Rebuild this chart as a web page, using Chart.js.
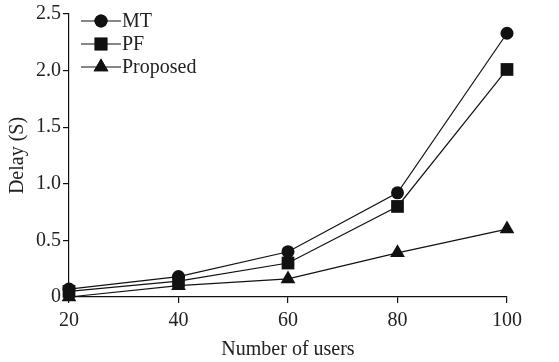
<!DOCTYPE html>
<html>
<head>
<meta charset="utf-8">
<script src="https://cdn.jsdelivr.net/npm/chart.js@4/dist/chart.umd.min.js"></script>
<style>
  html, body { margin: 0; padding: 0; background: #fff; }
  #wrap { width: 559px; height: 362px; position: relative; }
</style>
</head>
<body>
<div id="wrap"><canvas id="myChart"></canvas></div>
<script>
const users = [20, 40, 60, 80, 100];
const mt = [0.07, 0.18, 0.40, 0.92, 2.33];
const pf = [0.05, 0.14, 0.30, 0.80, 2.01];
const proposed = [0.0, 0.10, 0.16, 0.39, 0.60];
const yTicks = [0, 0.5, 1.0, 1.5, 2.0, 2.5];
const seriesNames = ["MT", "PF", "Proposed"];

const FONT = "'Liberation Serif', 'Times New Roman', serif";
const INK = "#111";
const TEXT = "#222";
const FS = 20;

function pts(ys) {
  return users.map((u, i) => ({ x: u, y: ys[i] }));
}

function makeSet(label, ys, style, radius) {
  return {
    label: label,
    data: pts(ys),
    borderColor: INK,
    backgroundColor: INK,
    borderWidth: 1.2,
    pointStyle: style,
    pointRadius: radius,
    pointBackgroundColor: INK,
    pointBorderColor: INK,
    pointBorderWidth: 0,
    tension: 0,
    clip: false,
  };
}

var data = {
  datasets: [
    makeSet(seriesNames[0], mt, "circle", 6.5),
    makeSet(seriesNames[1], pf, "rect", 9),
    makeSet(seriesNames[2], proposed, "triangle", 8.5),
  ],
};

// legend drawn inside the plot: short line with marker, then the name
const lineLegend = {
  id: "lineLegend",
  afterDraw(chart) {
    const ctx = chart.ctx;
    const rows = [21, 44, 67];
    ctx.save();
    chart.data.datasets.forEach((ds, i) => {
      const y = rows[i];
      ctx.strokeStyle = INK;
      ctx.lineWidth = 1.2;
      ctx.beginPath();
      ctx.moveTo(81, y);
      ctx.lineTo(121, y);
      ctx.stroke();
      ctx.fillStyle = INK;
      Chart.helpers.drawPoint(ctx, { pointStyle: ds.pointStyle, radius: ds.pointRadius, borderWidth: 0 }, 101, y);
      ctx.fill();
      ctx.fillStyle = TEXT;
      ctx.font = FS + "px " + FONT;
      ctx.textBaseline = "middle";
      ctx.textAlign = "left";
      ctx.fillText(ds.label, 122, y + 1);
    });
    ctx.restore();
  },
};

var ctx = document.getElementById("myChart").getContext("2d");
var chart = new Chart(ctx, {
  type: "line",
  data: data,
  plugins: [lineLegend],
  options: {
    animation: { duration: 0 },
    responsive: true,
    maintainAspectRatio: false,
    layout: { padding: { top: 14, right: 52, left: 0, bottom: 0 } },
    plugins: {
      legend: { display: false },
      tooltip: { enabled: false },
    },
    scales: {
      x: {
        type: "linear",
        min: 20,
        max: 100,
        afterBuildTicks: (s) => { s.ticks = users.map((v) => ({ value: v })); },
        afterFit: (s) => { s.height = 65; },
        border: { display: true, color: INK, width: 1.2 },
        grid: { drawOnChartArea: false, drawTicks: true, tickLength: 6, color: INK, lineWidth: 1.2 },
        ticks: { color: TEXT, font: { family: FONT, size: FS }, padding: 6, maxRotation: 0 },
        title: {
          display: true,
          text: "Number of users",
          color: TEXT,
          font: { family: FONT, size: FS },
          padding: { top: 2, bottom: 0 },
        },
      },
      y: {
        min: 0,
        max: 2.5,
        afterBuildTicks: (s) => { s.ticks = yTicks.map((v) => ({ value: v })); },
        afterFit: (s) => { s.width = 69; },
        border: { display: true, color: INK, width: 1.2 },
        grid: { drawOnChartArea: false, drawTicks: true, tickLength: 6, color: INK, lineWidth: 1.2 },
        ticks: {
          color: TEXT,
          font: { family: FONT, size: FS },
          padding: 2,
          callback: (v) => (v === 0 ? "0" : v.toFixed(1)),
        },
        title: {
          display: true,
          text: "Delay (S)",
          color: TEXT,
          font: { family: FONT, size: FS },
          padding: { top: 6, bottom: 0 },
        },
      },
    },
  },
});
</script>
</body>
</html>
